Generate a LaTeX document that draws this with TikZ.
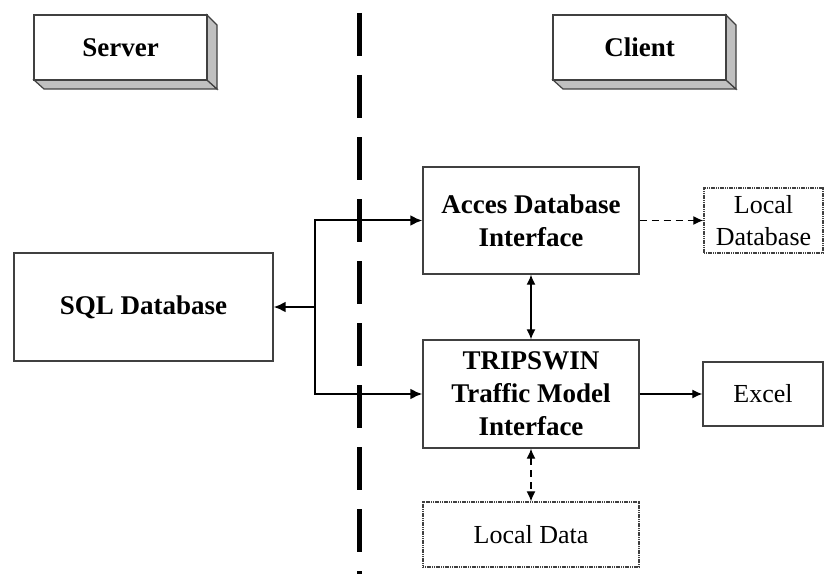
\documentclass[tikz,border=0pt]{standalone}
\usepackage{fontspec}
\setmainfont{Liberation Serif}
\usetikzlibrary{arrows.meta}
\definecolor{boxline}{HTML}{404040}
\definecolor{sidegray}{HTML}{C0C0C0}
\begin{document}
\begin{tikzpicture}[x=1bp,y=-1bp,>={Latex[length=12bp,width=11bp]},line join=miter,
    box/.style={draw=boxline,line width=1.4bp,rectangle,align=center,inner sep=0pt,
      font=\fontsize{27bp}{33bp}\selectfont\bfseries},
    localbox/.style={box,dash pattern=on 1.2bp off 0.6bp,
      font=\fontsize{26bp}{32bp}\selectfont},
    plainbox/.style={box,font=\fontsize{26bp}{32bp}\selectfont},
    side/.style={fill=sidegray,draw=boxline,line width=1.2bp},
    link/.style={line width=2bp},
    thinlink/.style={line width=1.3bp,>={Latex[length=10bp,width=9bp]}},
  ]
    \useasboundingbox (0,0) rectangle (825,574);
    %% 3d title boxes
    \draw [side] (34,80) -- (207,80) -- (217,89) -- (44,89) -- cycle;
    \draw [side] (207,15) -- (217,25) -- (217,89) -- (207,80) -- cycle;
    \node (server) at (120.5,47.5) [box,fill=white,minimum width=173bp,minimum height=65bp] {Server};
    \draw [side] (553,80) -- (726,80) -- (736,89) -- (563,89) -- cycle;
    \draw [side] (726,15) -- (736,25) -- (736,89) -- (726,80) -- cycle;
    \node (client) at (639.5,47.5) [box,fill=white,minimum width=173bp,minimum height=65bp] {Client};
    %% divider
    \coordinate (divtop) at (359,13);
    \coordinate (divbot) at (359,574);
    \draw [line width=5bp,dash pattern=on 43bp off 19bp] (divtop) -- (divbot);
    %% boxes
    \node (sql) at (143.5,307) [box,minimum width=259bp,minimum height=108bp] {SQL Database};
    \node (acces) at (531,220.5) [box,minimum width=216bp,minimum height=107bp] {Acces Database\\Interface};
    \node (trips) at (531,394) [box,minimum width=216bp,minimum height=108bp] {TRIPSWIN\\Traffic Model\\Interface};
    \node (localdb) at (763.5,220.5) [localbox,minimum width=119bp,minimum height=65bp] {Local\\Database};
    \node (excel) at (763,394) [plainbox,minimum width=120bp,minimum height=64bp] {Excel};
    \node (localdata) at (531,534.5) [localbox,minimum width=216bp,minimum height=65bp] {Local Data};
    %% connectors
    \coordinate (br) at (315,307);
    \draw [link,->] (br) -- (sql.east);
    \draw [link,->] (br) |- (acces.west);
    \draw [link,->] (br) |- (trips.west);
    \draw [thinlink,<->] (acces.south) -- (trips.north);
    \draw [thinlink,->,dash pattern=on 7bp off 5bp] (acces.east) -- (localdb.west);
    \draw [thinlink,->] (trips.east) -- (excel.west);
    \draw [thinlink,<->,dash pattern=on 7bp off 5bp] (trips.south) -- (localdata.north);
    %
\end{tikzpicture}
\end{document}
